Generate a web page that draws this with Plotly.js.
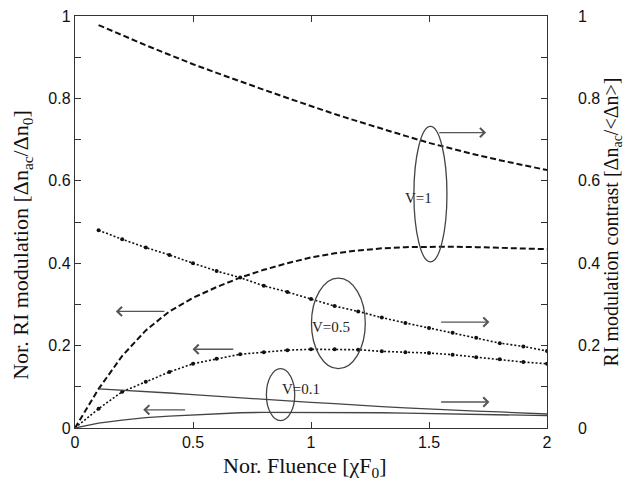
<!DOCTYPE html>
<html>
<head>
<meta charset="utf-8">
<script src="https://cdn.plot.ly/plotly-3.0.1.min.js"></script>
<style>html,body{margin:0;padding:0;background:#fff}#chart{width:625px;height:486px}</style>
</head>
<body>
<div id="chart"></div>
<script>
// Normalised fluence (x)
const fluenceMod = [0,0.1,0.2,0.3,0.4,0.5,0.6,0.7,0.8,0.9,1.0,1.1,1.2,1.3,1.4,1.5,1.6,1.7,1.8,1.9,2.0];
const fluenceCon = [0.1,0.2,0.3,0.4,0.5,0.6,0.7,0.8,0.9,1.0,1.1,1.2,1.3,1.4,1.5,1.6,1.7,1.8,1.9,2.0];

// V=1
const modV1 = [0,0.095,0.175,0.237,0.283,0.316,0.342,0.365,0.384,0.400,0.414,0.424,0.431,0.436,0.439,0.440,0.440,0.439,0.437,0.435,0.434];
const conV1 = [0.978,0.953,0.929,0.906,0.883,0.862,0.841,0.821,0.801,0.781,0.762,0.744,0.726,0.709,0.692,0.677,0.663,0.650,0.638,0.626];
// V=0.5
const modV05 = [0,0.047,0.088,0.112,0.136,0.156,0.168,0.179,0.184,0.189,0.191,0.191,0.190,0.186,0.184,0.182,0.178,0.172,0.167,0.160,0.156];
const conV05 = [0.480,0.458,0.438,0.420,0.400,0.381,0.365,0.345,0.330,0.313,0.296,0.283,0.268,0.255,0.243,0.231,0.219,0.206,0.198,0.187];
// V=0.1
const modV01 = [0,0.012,0.019,0.025,0.029,0.032,0.035,0.037,0.038,0.038,0.038,0.038,0.037,0.037,0.036,0.035,0.034,0.033,0.032,0.031,0.030];
const conV01 = [0.095,0.092,0.088,0.085,0.081,0.077,0.073,0.069,0.066,0.062,0.059,0.055,0.052,0.049,0.046,0.044,0.041,0.039,0.036,0.034];

const labels = ['V=1','V=0.5','V=0.1'];
const xTitle = 'Nor. Fluence [χF<sub>0</sub>]';
const yTitle = 'Nor. RI modulation [Δn<sub>ac</sub>/Δn<sub>0</sub>]';
const y2Title = 'RI modulation contrast [Δn<sub>ac</sub>/&lt;Δn&gt;]';

const dashV1 = {color:'#111', width:2, dash:'6px,3px'};
const dotV05 = {color:'#111', width:1.6, dash:'2px,2px'};
const solidV01 = {color:'#444', width:1.3};

const traces = [
  {x:fluenceMod, y:modV1, mode:'lines', line:dashV1, yaxis:'y'},
  {x:fluenceCon, y:conV1, mode:'lines', line:dashV1, yaxis:'y2'},
  {x:fluenceMod, y:modV05, mode:'lines+markers', line:dotV05, marker:{size:4,color:'#111'}, yaxis:'y'},
  {x:fluenceCon, y:conV05, mode:'lines+markers', line:dotV05, marker:{size:4,color:'#111'}, yaxis:'y2'},
  {x:fluenceMod, y:modV01, mode:'lines', line:solidV01, yaxis:'y'},
  {x:fluenceCon, y:conV01, mode:'lines', line:solidV01, yaxis:'y2'}
];

const serif = 'Liberation Serif, Times New Roman, serif';
const tickFont = {family:'Liberation Sans, Arial, sans-serif', size:16, color:'#111'};

function arrow(xh, yh, xt, yt){
  return {x:xh, y:yh, ax:xt, ay:yt, xref:'x', yref:'y', axref:'x', ayref:'y',
          text:'', showarrow:true, arrowhead:4, arrowsize:1.3, arrowwidth:1.4, arrowcolor:'#555'};
}
function label(t, x, y){
  return {x:x, y:y, xref:'x', yref:'y', text:t, showarrow:false,
          font:{family:serif, size:15, color:'#222'}};
}
function ellipse(x0,x1,y0,y1){
  return {type:'circle', xref:'x', yref:'y', x0:x0, x1:x1, y0:y0, y1:y1,
          line:{color:'#444', width:1.3}};
}

const layout = {
  width:625, height:486,
  margin:{l:75, r:78, t:16, b:58},
  paper_bgcolor:'#fff', plot_bgcolor:'#fff',
  showlegend:false,
  xaxis:{range:[0,2], dtick:0.5, ticks:'inside', ticklen:6, tickcolor:'#333',
         showline:true, linecolor:'#333', linewidth:1.2, mirror:'ticks', showgrid:false, zeroline:false,
         tickfont:tickFont, automargin:false},
  yaxis:{range:[0,1], dtick:0.2, ticks:'inside', ticklen:6, tickcolor:'#333',
         minor:{dtick:0.1, ticks:'inside', ticklen:6, tickcolor:'#333'},
         showline:true, linecolor:'#333', linewidth:1.2, mirror:true, showgrid:false, zeroline:false,
         tickfont:tickFont, automargin:false},
  yaxis2:{range:[0,1], dtick:0.2, overlaying:'y', side:'right', ticks:'inside', ticklen:6, tickcolor:'#333',
          minor:{dtick:0.1, ticks:'inside', ticklen:6, tickcolor:'#333'},
          showline:false, showgrid:false, zeroline:false, tickfont:tickFont, ticklabelstandoff:30,
          automargin:false,
          title:{text:y2Title, font:{family:serif, size:20, color:'#111'}, standoff:2}},
  shapes:[
    ellipse(1.436,1.576,0.403,0.732),
    ellipse(1.002,1.230,0.144,0.364),
    ellipse(0.811,0.931,0.018,0.144)
  ],
  annotations:[
    {x:-0.112, y:0.445, xref:'paper', yref:'paper', text:yTitle, textangle:-90, showarrow:false,
     xanchor:'center', yanchor:'middle', font:{family:serif, size:22, color:'#111'}},
    {x:0.487, y:-0.094, xref:'paper', yref:'paper', text:xTitle, showarrow:false,
     xanchor:'center', yanchor:'middle', font:{family:serif, size:22, color:'#111'}},
    label(labels[0], 1.456, 0.558),
    label(labels[1], 1.086, 0.244),
    label(labels[2], 0.959, 0.095),
    arrow(1.742,0.717, 1.537,0.717),
    arrow(1.756,0.257, 1.545,0.257),
    arrow(1.756,0.063, 1.545,0.063),
    arrow(0.173,0.283, 0.385,0.283),
    arrow(0.498,0.191, 0.677,0.191),
    arrow(0.289,0.044, 0.473,0.044)
  ]
};

Plotly.newPlot('chart', traces, layout, {displayModeBar:false, staticPlot:true});
</script>
</body>
</html>
